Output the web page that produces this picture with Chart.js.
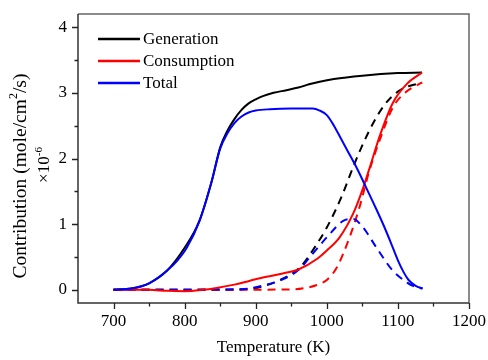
<!DOCTYPE html>
<html>
<head>
<meta charset="utf-8">
<script src="https://cdn.jsdelivr.net/npm/chart.js@4.4.1/dist/chart.umd.min.js"></script>
<style>
html,body{margin:0;padding:0;background:#fff;}
#wrap{width:488px;height:360px;position:relative;}
</style>
</head>
<body>
<div id="wrap"><canvas id="c" width="488" height="360"></canvas></div>
<script>
// ---- data ----
const seriesNames = ['Generation', 'Consumption', 'Total'];
const xTickLabels = [700, 800, 900, 1000, 1100, 1200];
const yTickLabels = [0, 1, 2, 3, 4];

const genT = [700, 725, 750, 775, 800, 820, 838, 850, 860, 870, 880, 890, 900, 910, 925, 943, 960, 975, 990, 1010, 1050, 1100, 1134];
const genV = [0, 0.02, 0.1, 0.29, 0.64, 1.03, 1.65, 2.17, 2.42, 2.6, 2.74, 2.84, 2.9, 2.95, 3.0, 3.04, 3.08, 3.13, 3.17, 3.21, 3.26, 3.30, 3.31];

const conT = [700, 750, 775, 800, 825, 845, 870, 892, 915, 938, 960, 986, 1000, 1018, 1037, 1051, 1060, 1075, 1093, 1113, 1134];
const conV = [0, 0, -0.015, -0.02, 0, 0.03, 0.08, 0.14, 0.2, 0.25, 0.31, 0.47, 0.6, 0.8, 1.16, 1.55, 1.85, 2.36, 2.85, 3.14, 3.31];

const totT = [700, 725, 750, 775, 790, 803, 821, 838, 850, 860, 870, 880, 890, 900, 920, 950, 980, 990, 1000, 1010, 1020, 1030, 1040, 1050, 1060, 1070, 1080, 1090, 1100, 1108, 1115, 1125, 1135];
const totV = [0, 0.02, 0.1, 0.29, 0.45, 0.64, 1.05, 1.65, 2.15, 2.38, 2.54, 2.64, 2.7, 2.73, 2.75, 2.76, 2.76, 2.73, 2.66, 2.5, 2.3, 2.1, 1.9, 1.68, 1.45, 1.22, 0.98, 0.72, 0.45, 0.27, 0.15, 0.06, 0.02];

const genDashT = [700, 850, 900, 934, 962, 980, 1000, 1020, 1040, 1060, 1080, 1100, 1115, 1134];
const genDashV = [0, 0, 0.03, 0.15, 0.34, 0.6, 0.95, 1.4, 1.95, 2.43, 2.8, 3.02, 3.1, 3.15];

const conDashT = [700, 950, 975, 990, 1000, 1014, 1032, 1046, 1060, 1075, 1093, 1110, 1134];
const conDashV = [0, 0.005, 0.04, 0.09, 0.15, 0.34, 0.8, 1.26, 1.82, 2.3, 2.78, 3.0, 3.16];

const totDashT = [700, 880, 915, 938, 962, 980, 1000, 1023, 1037, 1051, 1070, 1093, 1113, 1121, 1134];
const totDashV = [0, 0.01, 0.08, 0.16, 0.32, 0.55, 0.8, 1.05, 1.08, 0.95, 0.64, 0.29, 0.11, 0.06, 0.02];

const colors = ['#000000', '#ff0000', '#0000ff'];

function pts(t, v) { return t.map((x, i) => ({x: x, y: v[i]})); }

const FONT = 'Liberation Serif';

function ds(label, t, v, color, dashed, order) {
  return {
    label: label, data: pts(t, v), borderColor: color, backgroundColor: color,
    borderWidth: 2, borderDash: dashed ? [8, 6] : [], pointRadius: 0,
    cubicInterpolationMode: 'monotone', fill: false, order: order
  };
}

const datasets = [
  ds(seriesNames[2], totT, totV, colors[2], false, 0),
  ds(seriesNames[1], conT, conV, colors[1], false, 1),
  ds(seriesNames[0], genT, genV, colors[0], false, 2),
  ds(seriesNames[2] + ' (dashed)', totDashT, totDashV, colors[2], true, 3),
  ds(seriesNames[1] + ' (dashed)', conDashT, conDashV, colors[1], true, 4),
  ds(seriesNames[0] + ' (dashed)', genDashT, genDashV, colors[0], true, 5)
];

const framePlugin = {
  id: 'frame',
  afterDraw(chart) {
    const ctx = chart.ctx, a = chart.chartArea;
    const xs = chart.scales.x, ys = chart.scales.y;
    ctx.save();
    // frame
    ctx.lineWidth = 1.5;
    ctx.strokeStyle = '#666';
    ctx.beginPath();
    ctx.moveTo(a.left, a.top); ctx.lineTo(a.right, a.top); ctx.lineTo(a.right, a.bottom);
    ctx.stroke();
    ctx.strokeStyle = '#333';
    ctx.beginPath();
    ctx.moveTo(a.left, a.top); ctx.lineTo(a.left, a.bottom); ctx.lineTo(a.right, a.bottom);
    ctx.stroke();
    // ticks (outward)
    ctx.lineWidth = 1.3;
    ctx.strokeStyle = '#222';
    ctx.beginPath();
    for (let v = 700; v <= 1200; v += 50) {
      const px = Math.round(xs.getPixelForValue(v)) + 0.5;
      const len = (v % 100 === 0) ? 6 : 3.5;
      ctx.moveTo(px, a.bottom); ctx.lineTo(px, a.bottom + len);
    }
    for (let v = 0; v <= 4; v += 0.5) {
      const py = Math.round(ys.getPixelForValue(v)) + 0.5;
      const len = (Math.abs(v - Math.round(v)) < 1e-6) ? 6 : 3.5;
      ctx.moveTo(a.left, py); ctx.lineTo(a.left - len, py);
    }
    ctx.stroke();

    // legend
    ctx.lineWidth = 2.5;
    ctx.font = '17px "' + FONT + '"';
    ctx.textBaseline = 'middle';
    ctx.textAlign = 'left';
    ctx.fillStyle = '#000';
    const lx0 = a.left + 20, lx1 = a.left + 62;
    for (let i = 0; i < 3; i++) {
      const y = a.top + 25 + i * 22;
      ctx.strokeStyle = colors[i];
      ctx.beginPath(); ctx.moveTo(lx0, y); ctx.lineTo(lx1, y); ctx.stroke();
      ctx.fillText(seriesNames[i], lx1 + 3, y + 1);
    }

    // y axis title (rotated, with superscripts)
    function rotText(cx, cy, size, supSize, parts) {
      ctx.save();
      ctx.translate(cx, cy);
      ctx.rotate(-Math.PI / 2);
      let total = 0;
      parts.forEach(p => { ctx.font = (p.sup ? supSize : size) + 'px "' + FONT + '"'; total += ctx.measureText(p.t).width; });
      let x = -total / 2;
      ctx.textBaseline = 'middle'; ctx.textAlign = 'left'; ctx.fillStyle = '#000';
      parts.forEach(p => {
        ctx.font = (p.sup ? supSize : size) + 'px "' + FONT + '"';
        ctx.fillText(p.t, x, p.sup ? -size * 0.36 : 0);
        x += ctx.measureText(p.t).width;
      });
      ctx.restore();
    }
    rotText(21, 176, 19.5, 12, [{t: 'Contribution (mole/cm'}, {t: '2', sup: true}, {t: '/s)'}]);
    rotText(45, 165, 17, 11, [{t: '\u00d710'}, {t: '-6', sup: true}]);
    ctx.restore();
  }
};

function noPad(s) { s.paddingTop = 0; s.paddingBottom = 0; s.paddingLeft = 0; s.paddingRight = 0; }

new Chart(document.getElementById('c'), {
  type: 'line',
  data: { datasets: datasets },
  options: {
    responsive: false,
    animation: false,
    devicePixelRatio: 1,
    layout: { autoPadding: false, padding: { top: 14, right: 19, left: 0, bottom: 0 } },
    plugins: { legend: { display: false }, tooltip: { enabled: false } },
    scales: {
      x: {
        type: 'linear', min: 650, max: 1200,
        afterFit(s) { s.height = 57; noPad(s); },
        afterBuildTicks(s) { s.ticks = xTickLabels.map(v => ({value: v})); },
        grid: { display: false, drawTicks: false },
        border: { display: false },
        ticks: {
          autoSkip: false, maxRotation: 0, padding: 8,
          color: '#000', font: { family: FONT, size: 17 },
          callback: v => String(v)
        },
        title: {
          display: true, text: 'Temperature (K)', color: '#000',
          font: { family: FONT, size: 17 }, padding: { top: 0, bottom: 2 }
        }
      },
      y: {
        type: 'linear', min: -0.2, max: 4.2,
        afterFit(s) { s.width = 78; noPad(s); },
        afterBuildTicks(s) { s.ticks = yTickLabels.map(v => ({value: v})); },
        grid: { display: false, drawTicks: false },
        border: { display: false },
        ticks: {
          autoSkip: false, padding: 11,
          color: '#000', font: { family: FONT, size: 17 },
          callback: v => String(v)
        }
      }
    }
  },
  plugins: [framePlugin]
});
</script>
</body>
</html>
